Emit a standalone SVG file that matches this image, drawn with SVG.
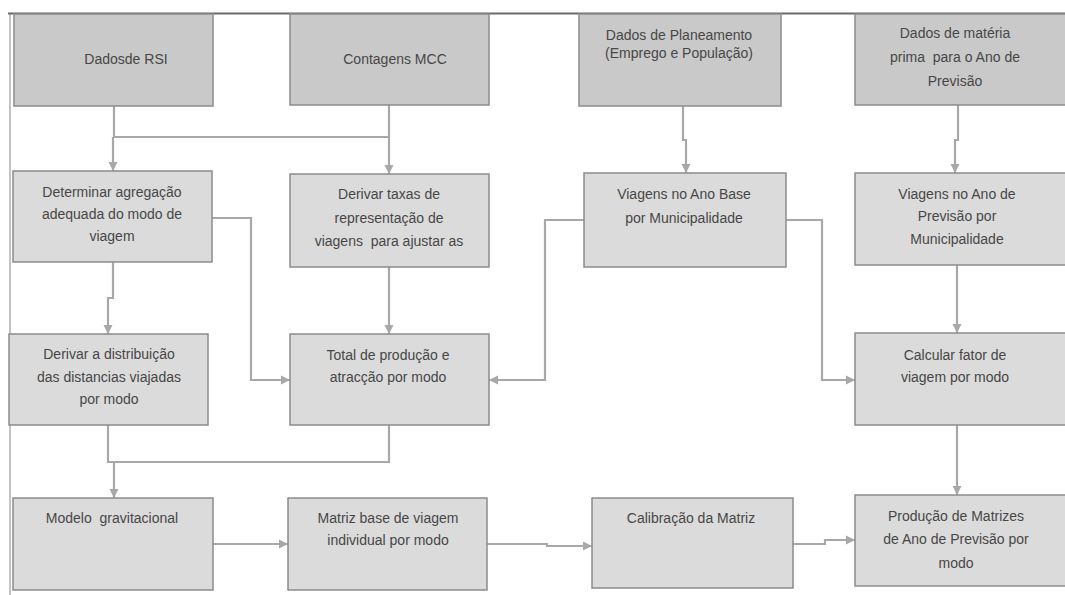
<svg xmlns="http://www.w3.org/2000/svg" width="1065" height="595" viewBox="0 0 1065 595">
<style>
.box{fill:#dbdbdb;stroke:#8c8c8c;stroke-width:1.5}
.top{fill:#c9c9c9}
text{font-family:"Liberation Sans",Arial,sans-serif;font-size:14px;fill:#474747;text-anchor:middle;white-space:pre}
.c{fill:none;stroke:#a8a8a8;stroke-width:2.2}
</style>
<defs>
<marker id="arr" markerUnits="userSpaceOnUse" markerWidth="10" markerHeight="10" refX="9" refY="5" orient="auto">
<path d="M0,0.5 L9,5 L0,9.5 z" fill="#a8a8a8"/>
</marker>
</defs>
<rect width="1065" height="595" fill="#ffffff"/>
<g id="frame">
<line x1="10" y1="13" x2="10" y2="595" stroke="#b0b0b0" stroke-width="1.5"/>
<line x1="8" y1="13.5" x2="1065" y2="13.5" stroke="#6b6b6b" stroke-width="2"/>
</g>
<g id="connectors">
<path class="c" d="M114,106 V137"/>
<path class="c" d="M389,105 V137"/>
<path class="c" d="M113,137 H389"/>
<path class="c" d="M113,137 V171" marker-end="url(#arr)"/>
<path class="c" d="M389,137 V174" marker-end="url(#arr)"/>
<path class="c" d="M683,106 V140 H686 V173" marker-end="url(#arr)"/>
<path class="c" d="M958,105 V140 H955 V173" marker-end="url(#arr)"/>
<path class="c" d="M212,218 H251 V380 H290" marker-end="url(#arr)"/>
<path class="c" d="M113,262 V298 H108 V334" marker-end="url(#arr)"/>
<path class="c" d="M389,267 V334" marker-end="url(#arr)"/>
<path class="c" d="M584,220 H545 V380 H489" marker-end="url(#arr)"/>
<path class="c" d="M786,220 H822 V380 H855" marker-end="url(#arr)"/>
<path class="c" d="M957,265 V333" marker-end="url(#arr)"/>
<path class="c" d="M108,425 V462 H389 V425"/>
<path class="c" d="M114,462 V498" marker-end="url(#arr)"/>
<path class="c" d="M957,425 V495" marker-end="url(#arr)"/>
<path class="c" d="M213,544 H288" marker-end="url(#arr)"/>
<path class="c" d="M487,544 H547 V546 H592" marker-end="url(#arr)"/>
<path class="c" d="M793,544 H825 V540 H855" marker-end="url(#arr)"/>
</g>
<g id="n1"><rect class="box top" x="14" y="14" width="199" height="92"/><text x="126" y="64">Dadosde RSI</text></g>
<g id="n2"><rect class="box top" x="290" y="14" width="199" height="91"/><text x="395" y="64">Contagens MCC</text></g>
<g id="n3"><rect class="box top" x="579" y="14" width="202" height="92"/><text x="679" y="40">Dados de Planeamento</text><text x="679" y="58">(Emprego e População)</text></g>
<g id="n4"><rect class="box top" x="855" y="14" width="215" height="91"/><text x="955" y="38">Dados de matéria</text><text x="955" y="62">prima  para o Ano de</text><text x="955" y="86">Previsão</text></g>
<g id="n5"><rect class="box" x="13" y="171" width="199" height="91"/><text x="112" y="197">Determinar agregação</text><text x="112" y="219">adequada do modo de</text><text x="112" y="241">viagem</text></g>
<g id="n6"><rect class="box" x="290" y="174" width="199" height="93"/><text x="389" y="199">Derivar taxas de</text><text x="389" y="223">representação de</text><text x="389" y="246">viagens  para ajustar as</text></g>
<g id="n7"><rect class="box" x="584" y="173" width="202" height="94"/><text x="684" y="199">Viagens no Ano Base</text><text x="684" y="223">por Municipalidade</text></g>
<g id="n8"><rect class="box" x="855" y="173" width="215" height="92"/><text x="957" y="199">Viagens no Ano de</text><text x="957" y="221">Previsão por</text><text x="957" y="244">Municipalidade</text></g>
<g id="n9"><rect class="box" x="9" y="334" width="199" height="91"/><text x="109" y="359">Derivar a distribuição</text><text x="109" y="382">das distancias viajadas</text><text x="109" y="404">por modo</text></g>
<g id="n10"><rect class="box" x="290" y="334" width="199" height="91"/><text x="388" y="360">Total de produção e</text><text x="388" y="382">atracção por modo</text></g>
<g id="n11"><rect class="box" x="855" y="333" width="215" height="92"/><text x="955" y="360">Calcular fator de</text><text x="955" y="382">viagem por modo</text></g>
<g id="n12"><rect class="box" x="13" y="498" width="200" height="92"/><text x="112" y="523">Modelo  gravitacional</text></g>
<g id="n13"><rect class="box" x="288" y="498" width="199" height="92"/><text x="388" y="523">Matriz base de viagem</text><text x="388" y="545">individual por modo</text></g>
<g id="n14"><rect class="box" x="592" y="498" width="201" height="90"/><text x="691" y="523">Calibração da Matriz</text></g>
<g id="n15"><rect class="box" x="855" y="495" width="215" height="91"/><text x="956" y="521">Produção de Matrizes</text><text x="956" y="544">de Ano de Previsão por</text><text x="956" y="568">modo</text></g>
</svg>
